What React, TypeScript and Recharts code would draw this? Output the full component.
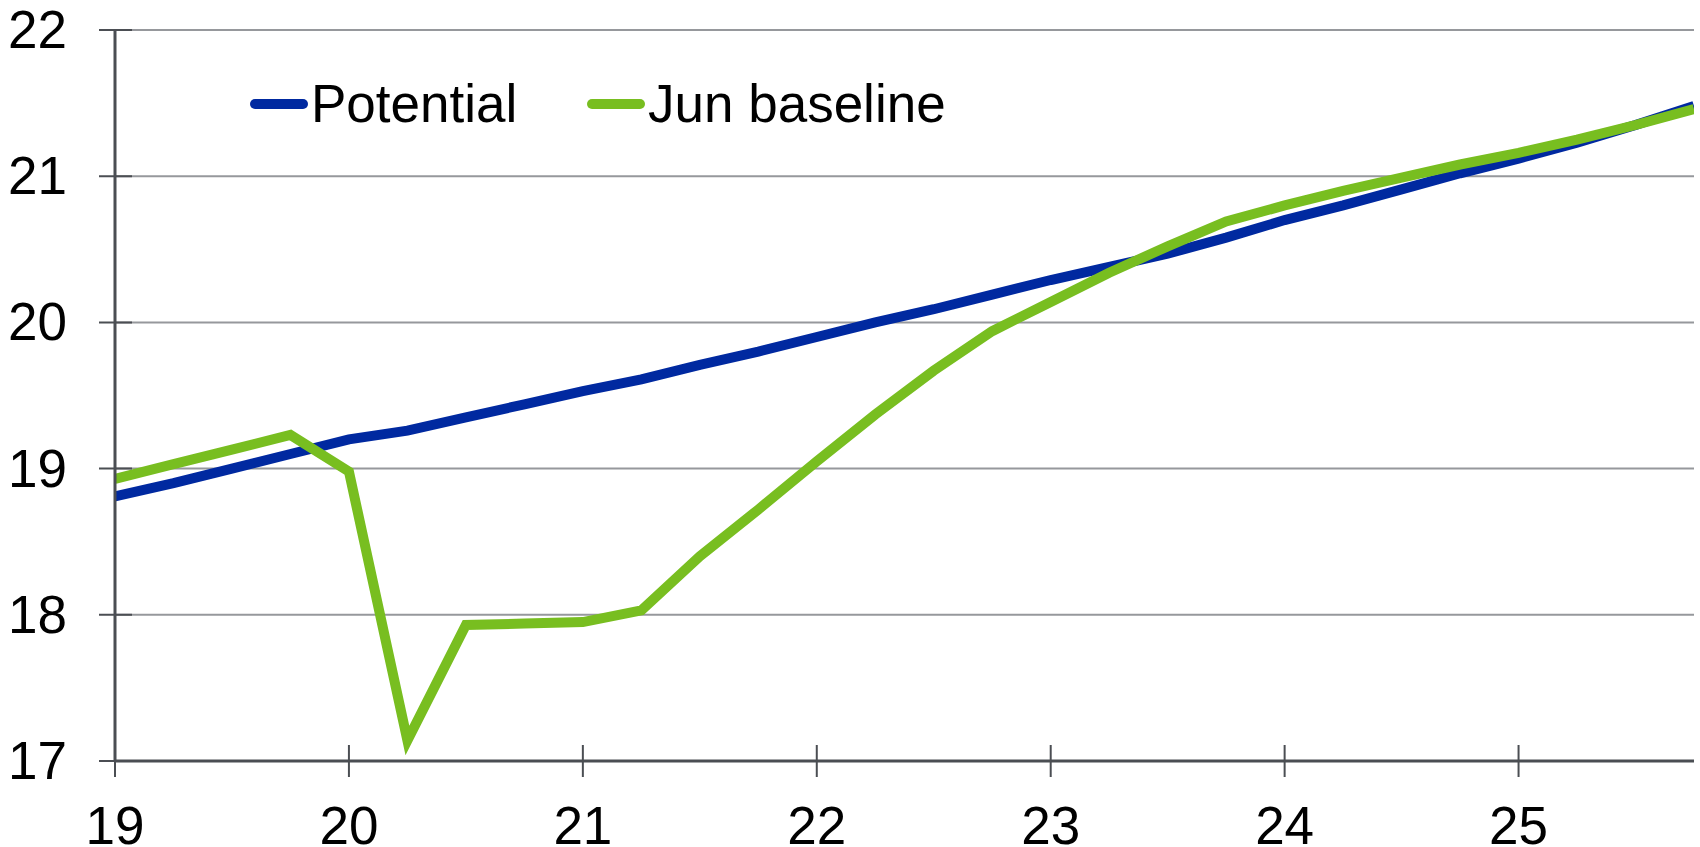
import React from "react";
import { CartesianGrid, Legend, Line, LineChart, XAxis, YAxis } from "recharts";

// quarterly points, year in short form (19 = 2019)
const quarters = [
  19, 19.25, 19.5, 19.75, 20, 20.25, 20.5, 20.75, 21, 21.25, 21.5, 21.75, 22, 22.25,
  22.5, 22.75, 23, 23.25, 23.5, 23.75, 24, 24.25, 24.5, 24.75, 25, 25.25, 25.5, 25.75,
];

const potential = [
  18.81, 18.9, 19.0, 19.1, 19.2, 19.26, 19.35, 19.44, 19.53, 19.61, 19.71, 19.8, 19.9, 20.0,
  20.09, 20.19, 20.29, 20.38, 20.47, 20.58, 20.7, 20.8, 20.91, 21.02, 21.12, 21.23, 21.35, 21.48,
];

const junBaseline = [
  18.93, 19.03, 19.13, 19.23, 18.98, 17.14, 17.93, 17.94, 17.95, 18.03, 18.4, 18.72, 19.05, 19.37,
  19.67, 19.94, 20.14, 20.34, 20.52, 20.69, 20.8, 20.9, 20.99, 21.08, 21.16, 21.25, 21.35, 21.46,
];

const xTicks = [19, 20, 21, 22, 23, 24, 25];
const yTicks = [17, 18, 19, 20, 21, 22];
const legendOrder = ["Potential", "Jun baseline"];

const data = quarters.map((t, i) => ({ t, potential: potential[i], jun: junBaseline[i] }));

const FONT = "'Liberation Sans', Arial, Helvetica, sans-serif";
const FS = 53;
const AXIS = "#4b4e53";
const GRID = "#96989c";
const Y_TS = 15;
const Y_TM = 33;
const X_TS = 15;

const YTick = (props: any) => {
  const { x, y, payload } = props;
  const axisX = x + Y_TS + Y_TM;
  return (
    <g>
      <line x1={axisX - 16} x2={axisX + 17} y1={y} y2={y} stroke={AXIS} strokeWidth={2} />
      <text x={x} y={y} dy={18} textAnchor="end" fontSize={FS} fontFamily={FONT} fill="#000">
        {payload.value}
      </text>
    </g>
  );
};

const XTick = (props: any) => {
  const { x, y, payload } = props;
  const axisY = y - X_TS;
  return (
    <g>
      <line x1={x} x2={x} y1={axisY - 16} y2={axisY + 16} stroke={AXIS} strokeWidth={2} />
      <text x={x} y={axisY + 83} textAnchor="middle" fontSize={FS} fontFamily={FONT} fill="#000">
        {payload.value}
      </text>
    </g>
  );
};

const LegendContent = (props: any) => {
  const payload = [...(props.payload || [])].sort(
    (a: any, b: any) => legendOrder.indexOf(a.value) - legendOrder.indexOf(b.value)
  );
  return (
    <svg width={760} height={60}>
      {payload.map((p: any, i: number) => {
        const x0 = i * 337;
        return (
          <g key={p.value}>
            <line x1={x0 + 10} x2={x0 + 58} y1={30} y2={30} stroke={p.color} strokeWidth={10} strokeLinecap="round" />
            <text x={x0 + 66} y={48} fontSize={FS} fontFamily={FONT} fill="#000">
              {p.value}
            </text>
          </g>
        );
      })}
    </svg>
  );
};

export default function App() {
  return (
    <div style={{ position: "absolute", left: 0, top: 0, width: 1700, height: 847, background: "#fff" }}>
      <LineChart width={1700} height={847} data={data} margin={{ top: 30, right: 6, bottom: 0, left: 0 }}>
        <CartesianGrid vertical={false} stroke={GRID} strokeWidth={2} />
        <XAxis
          dataKey="t"
          type="number"
          domain={[19, 25.75]}
          ticks={xTicks}
          allowDataOverflow
          height={86}
          tickSize={X_TS}
          tickMargin={0}
          tickLine={false}
          axisLine={{ stroke: AXIS, strokeWidth: 3 }}
          tick={<XTick />}
        />
        <XAxis
          xAxisId="top"
          orientation="top"
          type="number"
          domain={[19, 25.75]}
          height={0}
          tick={false}
          tickLine={false}
          axisLine={{ stroke: AXIS, strokeWidth: 3 }}
        />
        <YAxis
          type="number"
          domain={[17, 22]}
          ticks={yTicks}
          allowDataOverflow
          width={115}
          tickSize={Y_TS}
          tickMargin={Y_TM}
          tickLine={false}
          axisLine={{ stroke: AXIS, strokeWidth: 3 }}
          tick={<YTick />}
        />
        <YAxis
          yAxisId="right"
          orientation="right"
          type="number"
          domain={[17, 22]}
          width={0}
          tick={false}
          tickLine={false}
          axisLine={{ stroke: AXIS, strokeWidth: 3 }}
        />
        <Legend
          layout="vertical"
          align="center"
          verticalAlign="middle"
          content={<LegendContent />}
          wrapperStyle={{ left: 245, top: 74, width: 760, height: 60 }}
        />
        <Line
          type="linear"
          dataKey="potential"
          name="Potential"
          stroke="#0029a0"
          strokeWidth={10}
          dot={false}
          isAnimationActive={false}
        />
        <Line
          type="linear"
          dataKey="jun"
          name="Jun baseline"
          stroke="#78be20"
          strokeWidth={10}
          dot={false}
          isAnimationActive={false}
        />
      </LineChart>
    </div>
  );
}
